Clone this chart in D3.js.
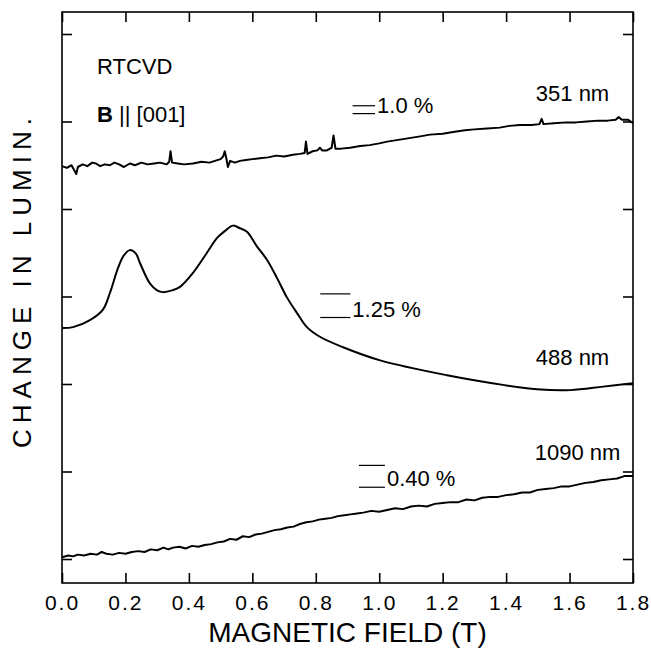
<!DOCTYPE html>
<html>
  <body style="margin:0;background:#fff">
    <script src="https://cdnjs.cloudflare.com/ajax/libs/d3/7.8.5/d3.min.js"></script>
    <script>
// magnetic field scans of luminescence, three wavelengths, stacked with offsets
var width = 651;
var height = 649;

// field in tesla, change in luminescence in (offset) chart divisions
var field351 = [0.000,0.015,0.030,0.045,0.050,0.065,0.080,0.095,0.107,0.120,0.135,0.151,0.165,0.180,0.195,0.214,0.230,0.250,0.270,0.290,0.309,0.330,0.338,0.342,0.347,0.365,0.385,0.413,0.440,0.465,0.482,0.500,0.508,0.513,0.518,0.523,0.530,0.545,0.561,0.580,0.600,0.624,0.650,0.675,0.700,0.728,0.750,0.765,0.769,0.774,0.790,0.805,0.813,0.820,0.835,0.850,0.856,0.862,0.880,0.908,0.940,0.970,1.000,1.025,1.060,1.095,1.129,1.160,1.200,1.233,1.270,1.300,1.340,1.380,1.410,1.444,1.480,1.505,1.512,1.518,1.550,1.590,1.620,1.655,1.690,1.720,1.745,1.755,1.765,1.785,1.800];
var lum351 = [4.49,4.47,4.50,4.40,4.48,4.51,4.49,4.53,4.52,4.49,4.51,4.50,4.53,4.51,4.48,4.52,4.50,4.53,4.51,4.52,4.53,4.51,4.54,4.66,4.53,4.52,4.51,4.52,4.54,4.53,4.55,4.57,4.60,4.66,4.58,4.48,4.55,4.53,4.55,4.56,4.57,4.58,4.59,4.61,4.60,4.62,4.63,4.64,4.77,4.63,4.66,4.67,4.70,4.67,4.67,4.70,4.84,4.69,4.69,4.70,4.72,4.73,4.75,4.77,4.79,4.81,4.83,4.85,4.86,4.88,4.90,4.91,4.92,4.93,4.95,4.96,4.96,4.97,5.03,4.97,4.98,4.99,4.99,5.00,5.01,5.01,5.02,5.05,5.02,5.02,4.98];

var field488 = [0.000,0.035,0.088,0.129,0.151,0.177,0.195,0.214,0.233,0.246,0.277,0.300,0.318,0.347,0.372,0.413,0.457,0.489,0.514,0.539,0.561,0.583,0.615,0.646,0.678,0.709,0.741,0.772,0.813,0.886,1.003,1.214,1.390,1.497,1.602,1.706,1.800];
var lum488 = [2.64,2.65,2.73,2.85,3.04,3.33,3.47,3.53,3.49,3.38,3.15,3.07,3.05,3.07,3.11,3.27,3.50,3.67,3.75,3.81,3.78,3.74,3.57,3.42,3.21,2.99,2.81,2.65,2.54,2.42,2.27,2.10,1.99,1.94,1.93,1.97,2.01];

var field1090 = [0.000,0.020,0.035,0.050,0.070,0.090,0.110,0.125,0.140,0.160,0.180,0.200,0.220,0.240,0.260,0.280,0.300,0.320,0.335,0.350,0.370,0.390,0.410,0.430,0.450,0.470,0.490,0.510,0.530,0.550,0.570,0.590,0.610,0.630,0.650,0.670,0.690,0.710,0.730,0.750,0.770,0.790,0.810,0.830,0.850,0.870,0.890,0.910,0.930,0.950,0.975,1.000,1.025,1.050,1.075,1.100,1.125,1.150,1.175,1.200,1.225,1.250,1.275,1.300,1.325,1.350,1.375,1.400,1.425,1.450,1.475,1.500,1.525,1.550,1.575,1.600,1.625,1.650,1.675,1.700,1.725,1.750,1.775,1.800];
var lum1090 = [0.02,0.04,0.03,0.05,0.04,0.06,0.05,0.08,0.06,0.05,0.07,0.06,0.08,0.09,0.08,0.11,0.10,0.13,0.11,0.13,0.14,0.12,0.15,0.14,0.16,0.17,0.19,0.20,0.23,0.22,0.26,0.25,0.28,0.29,0.31,0.33,0.34,0.36,0.37,0.40,0.42,0.43,0.45,0.46,0.47,0.49,0.50,0.51,0.52,0.53,0.55,0.54,0.56,0.58,0.57,0.60,0.61,0.60,0.63,0.64,0.65,0.65,0.68,0.67,0.70,0.71,0.71,0.73,0.74,0.76,0.76,0.79,0.80,0.81,0.83,0.83,0.85,0.87,0.88,0.90,0.91,0.92,0.95,0.95];

var xTicks = [0, 0.2, 0.4, 0.6, 0.8, 1.0, 1.2, 1.4, 1.6, 1.8];
var yTicks = [0, 1, 2, 3, 4, 5, 6];

// wavelength labels: [text, field at right end of label, level]
var waveLabels = [["351 nm", 1.725, 5.23], ["488 nm", 1.725, 2.22], ["1090 nm", 1.76, 1.13]];
// scale bars: [text, field start, field end, lower level, upper level]
var scaleBars = [["1.0 %", 0.916, 0.987, 5.09, 5.18], ["1.25 %", 0.814, 0.909, 2.76, 3.03], ["0.40 %", 0.936, 1.018, 0.82, 1.07]];

var font = "'Liberation Sans', Arial, Helvetica, sans-serif";

var x = d3.scaleLinear().domain([0, 1.8]).range([62, 633]);
var y = d3.scaleLinear().domain([0, 6]).range([559, 34]);
var frameTop = 12, frameBottom = 583;

var svg = d3.select("body").append("svg")
  .attr("width", width)
  .attr("height", height)
  .style("font-family", font);

// ticks, pointing inward
var bottomAxis = svg.append("g")
  .attr("transform", "translate(0," + frameBottom + ")")
  .call(d3.axisBottom(x).tickValues(xTicks).tickSizeInner(-10).tickSizeOuter(0)
    .tickPadding(12).tickFormat(d3.format(".1f")));
bottomAxis.selectAll("text").style("font-size", "21px").style("letter-spacing", "2px").attr("fill", "#000");

svg.append("g")
  .attr("transform", "translate(0," + frameTop + ")")
  .call(d3.axisTop(x).tickValues(xTicks).tickSizeInner(-10).tickSizeOuter(0).tickFormat(""));

svg.append("g")
  .attr("transform", "translate(" + x(0) + ",0)")
  .call(d3.axisLeft(y).tickValues(yTicks).tickSizeInner(-10).tickSizeOuter(0).tickFormat(""));

svg.append("g")
  .attr("transform", "translate(" + x(1.8) + ",0)")
  .call(d3.axisRight(y).tickValues(yTicks).tickSizeInner(-10).tickSizeOuter(0).tickFormat(""));

svg.selectAll(".domain").remove();
svg.selectAll(".tick line").attr("stroke", "#000").attr("stroke-width", 1.6);

// frame
svg.append("rect")
  .attr("x", x(0)).attr("y", frameTop)
  .attr("width", x(1.8) - x(0)).attr("height", frameBottom - frameTop)
  .attr("fill", "none").attr("stroke", "#000").attr("stroke-width", 1.6);

// curves
var line = d3.line().x(d => x(d[0])).y(d => y(d[1]));
[[field351, lum351], [field488, lum488], [field1090, lum1090]].forEach(function (s, i) {
  var pts = d3.zip(s[0], s[1]);
  svg.append("path")
    .datum(pts)
    .attr("fill", "none")
    .attr("stroke", "#000")
    .attr("stroke-width", 2)
    .attr("stroke-linejoin", "round")
    .attr("d", i == 1 ? line.curve(d3.curveCatmullRom)(pts) : line.curve(d3.curveLinear)(pts));
});

// wavelength labels
svg.selectAll(".wl")
  .data(waveLabels)
  .join("text")
  .attr("class", "wl")
  .attr("x", d => x(d[1]))
  .attr("y", d => y(d[2]))
  .attr("text-anchor", "end")
  .style("font-size", "22px")
  .text(d => d[0]);

// scale bars
scaleBars.forEach(function (b) {
  var g = svg.append("g");
  [b[3], b[4]].forEach(function (v) {
    g.append("line")
      .attr("x1", x(b[1])).attr("x2", x(b[2]))
      .attr("y1", y(v)).attr("y2", y(v))
      .attr("stroke", "#000").attr("stroke-width", 1.2);
  });
  g.append("text")
    .attr("x", x(b[2]) + 2)
    .attr("y", y(b[3]) - 1)
    .style("font-size", "22px")
    .text(b[0]);
});

// sample annotation
svg.append("text")
  .attr("x", 97).attr("y", 74)
  .style("font-size", "22px")
  .text("RTCVD");

var bt = svg.append("text")
  .attr("x", 97).attr("y", 122)
  .style("font-size", "22px");
bt.append("tspan").style("font-weight", "bold").text("B");
bt.append("tspan").text(" || [001]");

// axis titles
svg.append("text")
  .attr("x", (x(0) + x(1.8)) / 2)
  .attr("y", 642)
  .attr("text-anchor", "middle")
  .style("font-size", "28px")
  .text("MAGNETIC FIELD (T)");

svg.append("text")
  .attr("transform", "translate(31," + 283 + ") rotate(-90)")
  .attr("text-anchor", "middle")
  .attr("textLength", 330)
  .attr("lengthAdjust", "spacing")
  .style("font-size", "26px")
  .text("CHANGE IN LUMIN.");
    </script>
  </body>
</html>
